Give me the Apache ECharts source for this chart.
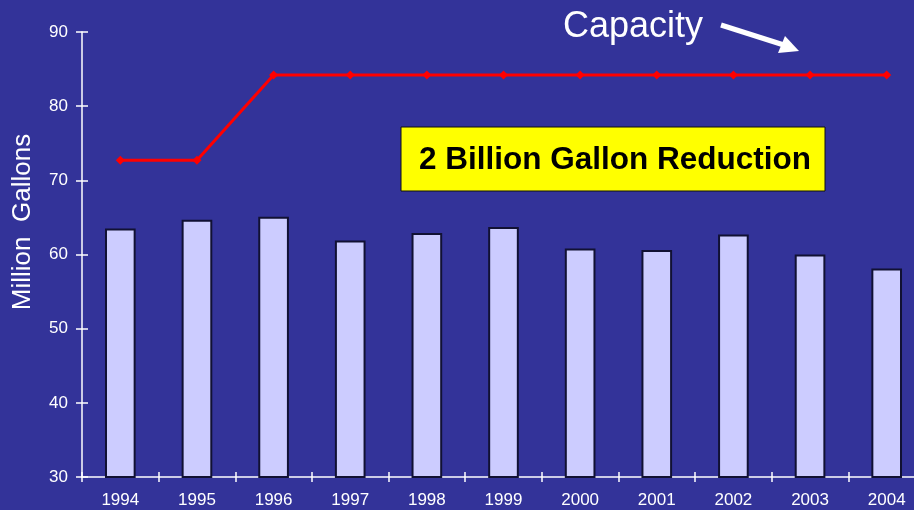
<!DOCTYPE html>
<html>
<head>
<meta charset="utf-8">
<title>Million Gallons, 1994-2004</title>
<script src="https://cdn.jsdelivr.net/npm/echarts@6/dist/echarts.min.js"></script>
<style>
  html, body { margin: 0; padding: 0; background: #333399; overflow: hidden; }
  /* the plot runs a little past the right edge of the window */
  #chart { width: 940px; height: 510px; }
</style>
</head>
<body>
<div id="chart"></div>
<script>
// Annual volumes (million gallons) against capacity
const years = ['1994', '1995', '1996', '1997', '1998', '1999', '2000', '2001', '2002', '2003', '2004'];
const usage = [63.5, 64.7, 65.1, 61.9, 62.9, 63.7, 60.8, 60.6, 62.7, 60.0, 58.1];
const capacity = [72.7, 72.7, 84.2, 84.2, 84.2, 84.2, 84.2, 84.2, 84.2, 84.2, 84.2];
const yTicks = { min: 30, max: 90, interval: 10 };

const FONT = '"Liberation Sans", Arial, sans-serif';
const WHITE = '#ffffff';

const chart = echarts.init(document.getElementById('chart'));

// Primary axes carry labels and outward ticks; twin axes add the inward half of each tick
const xMain = {
  type: 'category', data: years, position: 'bottom',
  axisLine: { lineStyle: { color: WHITE, width: 1.5 } },
  axisTick: { show: true, length: 5, lineStyle: { color: WHITE, width: 1.5 } },
  axisLabel: { color: WHITE, fontFamily: FONT, fontSize: 17, margin: 15 },
  splitLine: { show: false }
};
const xTwin = {
  type: 'category', data: years, position: 'bottom',
  axisLine: { show: false },
  axisTick: { show: true, inside: true, length: 5, lineStyle: { color: WHITE, width: 1.5 } },
  axisLabel: { show: false },
  splitLine: { show: false }
};
const yMain = {
  type: 'value', min: yTicks.min, max: yTicks.max, interval: yTicks.interval, position: 'left',
  axisLine: { show: true, lineStyle: { color: WHITE, width: 1.5 } },
  axisTick: { show: true, length: 6, lineStyle: { color: WHITE, width: 1.5 } },
  axisLabel: { color: WHITE, fontFamily: FONT, fontSize: 17, margin: 14 },
  splitLine: { show: false }
};
const yTwin = {
  type: 'value', min: yTicks.min, max: yTicks.max, interval: yTicks.interval, position: 'left',
  axisLine: { show: false },
  axisTick: { show: true, inside: true, length: 6, lineStyle: { color: WHITE, width: 1.5 } },
  axisLabel: { show: false },
  splitLine: { show: false }
};

chart.setOption({
  backgroundColor: '#333399',
  animation: false,
  grid: { left: 82, top: 32, width: 843, height: 445, containLabel: false },
  xAxis: [xMain, xTwin],
  yAxis: [yMain, yTwin],
  series: [
    {
      name: 'Usage',
      type: 'bar',
      xAxisIndex: 0, yAxisIndex: 0,
      data: usage,
      barWidth: '40%',
      itemStyle: { color: '#ccccff', borderColor: '#111133', borderWidth: 2 },
      z: 2
    },
    {
      name: 'Capacity',
      type: 'line',
      xAxisIndex: 0, yAxisIndex: 0,
      data: capacity,
      symbol: 'diamond',
      symbolSize: 9,
      lineStyle: { color: '#ff0000', width: 3 },
      itemStyle: { color: '#ff0000' },
      z: 3
    }
  ],
  graphic: [
    {
      type: 'text',
      x: 23, y: 222, rotation: Math.PI / 2,
      style: {
        text: 'Million  Gallons', fill: WHITE, font: '26px ' + FONT,
        align: 'center', verticalAlign: 'middle'
      }
    },
    {
      type: 'text',
      x: 563, y: 27,
      style: {
        text: 'Capacity', fill: WHITE, font: '36px ' + FONT,
        align: 'left', verticalAlign: 'middle'
      }
    },
    {
      type: 'line',
      shape: { x1: 721, y1: 25, x2: 787, y2: 46 },
      style: { stroke: WHITE, lineWidth: 5 }
    },
    {
      type: 'polygon',
      shape: { points: [[799, 51], [785, 36], [778, 53]] },
      style: { fill: WHITE }
    },
    {
      type: 'rect',
      shape: { x: 401, y: 127, width: 424, height: 64 },
      style: { fill: '#ffff00', stroke: '#111111', lineWidth: 1 },
      z: 10
    },
    {
      type: 'text',
      x: 419, y: 160,
      style: {
        text: '2 Billion Gallon Reduction', fill: '#000000', font: 'bold 31.5px ' + FONT,
        align: 'left', verticalAlign: 'middle'
      },
      z: 11
    }
  ]
});
</script>
</body>
</html>
